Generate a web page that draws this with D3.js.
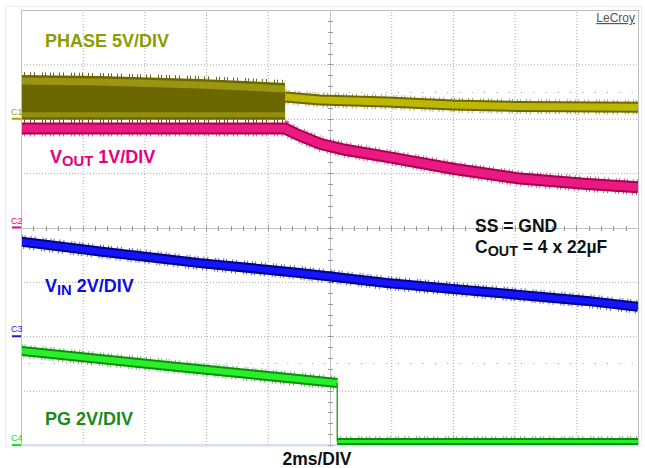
<!DOCTYPE html>
<html>
<head>
<meta charset="utf-8">
<script src="https://cdn.jsdelivr.net/npm/d3@7"></script>
<style>
	body { margin: 0; background: #fff; }
	svg { display: block; font-family: 'Liberation Sans', Arial, sans-serif; }
</style>
</head>
<body>
<svg id="scope" width="645" height="468"></svg>
<script>

// time in ms, values in volts
var phaseSwitchTime = [ 0, 2.56, 5.8, 8.56 ];
var phaseSwitchHigh = [ 4.02, 3.93, 3.66, 3.29 ];
var phaseTime = [ 8.56, 9.69, 11.86, 14.0, 16.17, 20 ];
var phaseVolts = [ 2.0, 1.72, 1.54, 1.26, 1.12, 1.05 ];

var voutTime = [ 0, 8.56, 9.0, 9.69, 10.5, 11.86, 14.0, 16.17, 18.35, 20 ];
var voutVolts = [ 1.82, 1.82, 1.70, 1.54, 1.43, 1.30, 1.08, 0.90, 0.80, 0.74 ];

var vinTime = [ 0, 2.56, 5.8, 9.04, 11.86, 14.0, 16.17, 18.35, 20 ];
var vinVolts = [ 3.48, 3.12, 2.69, 2.33, 1.96, 1.74, 1.52, 1.30, 1.08 ];

var pgHighTime = [ 0, 5, 10.25 ];
var pgHighVolts = [ 3.46, 2.88, 2.28 ];
var pgLowTime = [ 10.25, 20 ];
var pgLowVolts = [ 0.13, 0.13 ];

// scope channel setup: name, ground position (divisions from top), volts per division
var channelNames = [ 'C1', 'C2', 'C3', 'C4' ];
var channelGround = [ 2, 4, 6, 8 ];
var channelVoltsPerDiv = [ 5, 1, 2, 2 ];

var timeDivs = d3.range( 0, 21, 2 );
var voltDivs = d3.range( 0, 9, 1 );
var halfDivRows = [ 1.5, 6.5 ];

var colors = {
	phase: { dark: '#6c6800', mid: '#a39f14', band: '#bdb700', label: '#8a9e00' },
	vout: { dark: '#a8004f', band: '#ea1a82', label: '#e6007e' },
	vin: { dark: '#000088', band: '#1414ff', label: '#0c0ce6' },
	pg: { dark: '#0b8f0b', band: '#2aee2a', label: '#1b8a1b' }
};
var channelColors = [ '#a8a000', '#e6007e', '#1a1ae6', '#22dd22' ];

// irregular dash so the band edges look like scope noise rather than a comb
var fuzzDash = '1,2,1,5,1,3,1,7,1,2,1,4';

var padding = { top: 10, right: 7, bottom: 23, left: 21 };
var width = 645 - padding.left - padding.right;
var height = 468 - padding.top - padding.bottom;

var svg = d3.select( '#scope' );

var x = d3.scaleLinear().domain( [ 0, 20 ] ).range( [ padding.left, padding.left + width ] );
var yDiv = d3.scaleLinear().domain( [ 0, 8 ] ).range( [ padding.top, padding.top + height ] );

var yChannel = function ( ch ) {
	return function ( v ) {
		return yDiv( channelGround[ch] - v / channelVoltsPerDiv[ch] );
	};
};

var zip = function ( ts, vs ) {
	return ts.map( function ( t, i ) { return { t: t, v: vs[i] }; } );
};

// faint outer frame
svg.append( 'rect' )
	.attr( 'x', 5.5 ).attr( 'y', 6.5 )
	.attr( 'width', 636 ).attr( 'height', 440 )
	.style( 'fill', 'none' )
	.style( 'stroke', '#e6eef6' );

// grid
var xGrid = d3.axisBottom( x )
	.tickValues( timeDivs.filter( function ( d ) { return d > 0 && d < 20 && d !== 10; } ) )
	.tickSize( -height )
	.tickFormat( '' );

var yGrid = d3.axisLeft( yDiv )
	.tickValues( voltDivs.filter( function ( d ) { return d > 0 && d < 8 && d !== 4; } ) )
	.tickSize( -width )
	.tickFormat( '' );

svg.append( 'g' )
	.classed( 'grid', true )
	.attr( 'transform', 'translate(0,' + ( padding.top + height ) + ')' )
	.call( xGrid );

svg.append( 'g' )
	.classed( 'grid', true )
	.attr( 'transform', 'translate(' + padding.left + ',0)' )
	.call( yGrid );

svg.selectAll( '.grid .domain' ).remove();
svg.selectAll( '.grid line' )
	.style( 'stroke', '#a8a8a8' )
	.style( 'stroke-dasharray', '1,2' );

svg.selectAll( 'line.halfrow' )
	.data( halfDivRows )
	.enter()
	.append( 'line' )
	.classed( 'halfrow', true )
	.attr( 'x1', padding.left + 8 )
	.attr( 'x2', padding.left + width )
	.attr( 'y1', function ( d ) { return Math.round( yDiv( d ) ) + 0.5; } )
	.attr( 'y2', function ( d ) { return Math.round( yDiv( d ) ) + 0.5; } )
	.style( 'stroke', '#9a9a9a' )
	.style( 'stroke-dasharray', '1,11.3' );

// center axes with minor ticks
var cx = Math.round( x( 10 ) ) + 0.5;
var cy = Math.round( yDiv( 4 ) ) + 0.5;

svg.append( 'line' )
	.attr( 'x1', cx ).attr( 'x2', cx )
	.attr( 'y1', padding.top ).attr( 'y2', padding.top + height )
	.style( 'stroke', '#c4c4c4' );
svg.append( 'line' )
	.attr( 'x1', padding.left ).attr( 'x2', padding.left + width )
	.attr( 'y1', cy ).attr( 'y2', cy )
	.style( 'stroke', '#c4c4c4' );

svg.selectAll( 'line.vtick' )
	.data( d3.range( 0, 8.01, 0.2 ) )
	.enter()
	.append( 'line' )
	.classed( 'vtick', true )
	.attr( 'x1', cx - 2.5 ).attr( 'x2', cx + 2.5 )
	.attr( 'y1', function ( d ) { return Math.round( yDiv( d ) ) + 0.5; } )
	.attr( 'y2', function ( d ) { return Math.round( yDiv( d ) ) + 0.5; } )
	.style( 'stroke', '#9a9a9a' );

svg.selectAll( 'line.htick' )
	.data( d3.range( 0, 20.01, 0.4 ) )
	.enter()
	.append( 'line' )
	.classed( 'htick', true )
	.attr( 'y1', cy - 2.5 ).attr( 'y2', cy + 2.5 )
	.attr( 'x1', function ( d ) { return Math.round( x( d ) ) + 0.5; } )
	.attr( 'x2', function ( d ) { return Math.round( x( d ) ) + 0.5; } )
	.style( 'stroke', '#9a9a9a' );

// plot border
svg.append( 'rect' )
	.attr( 'x', padding.left + 0.5 ).attr( 'y', padding.top + 0.5 )
	.attr( 'width', width ).attr( 'height', height - 0.5 )
	.style( 'fill', 'none' )
	.style( 'stroke', '#c0c0c0' );

svg.append( 'clipPath' )
	.attr( 'id', 'plot-clip' )
	.append( 'rect' )
	.attr( 'x', padding.left + 1 ).attr( 'y', padding.top + 1 )
	.attr( 'width', width - 1 ).attr( 'height', height - 1 );

var traces = svg.append( 'g' ).attr( 'clip-path', 'url(#plot-clip)' );

// a noisy scope band: fuzzy dark edges under a bright core
var band = function ( data, ch, col, w ) {
	var line = d3.line()
		.x( function ( d ) { return x( d.t ); } )
		.y( function ( d ) { return yChannel( ch )( d.v ); } );
	traces.append( 'path' )
		.datum( data )
		.attr( 'd', line )
		.style( 'fill', 'none' )
		.style( 'stroke', col.dark )
		.style( 'stroke-width', w + 4 )
		.style( 'stroke-dasharray', fuzzDash )
		.style( 'opacity', 0.6 );
	traces.append( 'path' )
		.datum( data )
		.attr( 'd', line )
		.style( 'fill', 'none' )
		.style( 'stroke', col.dark )
		.style( 'stroke-width', w );
	traces.append( 'path' )
		.datum( data )
		.attr( 'd', line )
		.style( 'fill', 'none' )
		.style( 'stroke', col.band )
		.style( 'stroke-width', w - 4 );
};

// PHASE: switching envelope, then a single band once switching stops
var phaseSwitch = zip( phaseSwitchTime, phaseSwitchHigh );
var yPhase = yChannel( 0 );

var phaseArea = d3.area()
	.x( function ( d ) { return x( d.t ); } )
	.y0( yPhase( 0 ) + 1 )
	.y1( function ( d ) { return yPhase( d.v ); } );

var phaseTop = d3.line()
	.x( function ( d ) { return x( d.t ); } )
	.y( function ( d ) { return yPhase( d.v ); } );

var phaseLow = d3.line()
	.x( function ( d ) { return x( d.t ); } )
	.y( yPhase( 0 ) );

traces.append( 'path' )
	.datum( phaseSwitch )
	.attr( 'd', phaseTop )
	.style( 'fill', 'none' )
	.style( 'stroke', colors.phase.dark )
	.style( 'stroke-width', 6 )
	.style( 'stroke-dasharray', fuzzDash );

traces.append( 'path' )
	.datum( phaseSwitch )
	.attr( 'd', phaseLow )
	.style( 'fill', 'none' )
	.style( 'stroke', colors.phase.dark )
	.style( 'stroke-width', 7 )
	.style( 'stroke-dasharray', fuzzDash );

traces.append( 'path' )
	.datum( phaseSwitch )
	.attr( 'd', phaseArea )
	.style( 'fill', colors.phase.dark );

traces.append( 'path' )
	.datum( phaseSwitch )
	.attr( 'd', phaseTop )
	.attr( 'transform', 'translate(0,6)' )
	.style( 'fill', 'none' )
	.style( 'stroke', colors.phase.mid )
	.style( 'stroke-width', 7 )
	.style( 'opacity', 0.85 );

traces.append( 'path' )
	.datum( phaseSwitch )
	.attr( 'd', phaseLow )
	.attr( 'transform', 'translate(0,-4)' )
	.style( 'fill', 'none' )
	.style( 'stroke', colors.phase.mid )
	.style( 'stroke-width', 5 )
	.style( 'opacity', 0.7 );

band( zip( phaseTime, phaseVolts ), 0, { dark: colors.phase.dark, band: colors.phase.band }, 11 );

// VOUT, VIN, PG
band( zip( voutTime, voutVolts ), 1, colors.vout, 12 );
band( zip( vinTime, vinVolts ), 2, colors.vin, 10 );
band( zip( pgHighTime, pgHighVolts ), 3, colors.pg, 10 );
band( zip( pgLowTime, pgLowVolts ), 3, colors.pg, 7 );

var yPg = yChannel( 3 );
traces.append( 'line' )
	.attr( 'x1', x( pgHighTime[pgHighTime.length - 1] ) )
	.attr( 'x2', x( pgLowTime[0] ) )
	.attr( 'y1', yPg( pgHighVolts[pgHighVolts.length - 1] ) )
	.attr( 'y2', yPg( pgLowVolts[0] ) )
	.style( 'stroke', colors.pg.dark )
	.style( 'stroke-width', 1.2 );

// channel ground markers
var markers = svg.selectAll( 'g.marker' )
	.data( channelNames )
	.enter()
	.append( 'g' )
	.classed( 'marker', true )
	.attr( 'transform', function ( d, i ) {
		return 'translate(0,' + yDiv( channelGround[i] ) + ')';
	} );

markers.append( 'text' )
	.attr( 'x', 11 )
	.attr( 'y', -4 )
	.style( 'font-size', '9px' )
	.style( 'fill', function ( d, i ) { return channelColors[i]; } )
	.text( function ( d ) { return d; } );

markers.append( 'line' )
	.attr( 'x1', 12 ).attr( 'x2', 21 )
	.attr( 'y1', 0 ).attr( 'y2', 0 )
	.style( 'stroke', function ( d, i ) { return channelColors[i]; } )
	.style( 'stroke-width', 2 );

// labels, with optional subscript parts
var label = function ( xPos, yPos, size, color, parts ) {
	var t = svg.append( 'text' )
		.attr( 'x', xPos )
		.attr( 'y', yPos )
		.style( 'font-weight', 'bold' )
		.style( 'font-size', size + 'px' )
		.style( 'fill', color );
	var shift = 0;
	parts.forEach( function ( p ) {
		var s = t.append( 'tspan' ).text( p.text );
		if ( p.sub ) {
			s.style( 'font-size', ( size * 0.82 ) + 'px' ).attr( 'dy', 3 - shift );
			shift = 3;
		} else {
			s.attr( 'dy', -shift );
			shift = 0;
		}
	} );
	return t;
};

label( 45, 47, 18, colors.phase.label, [ { text: 'PHASE 5V/DIV' } ] );
label( 50, 163, 18, colors.vout.label, [ { text: 'V' }, { text: 'OUT', sub: true }, { text: ' 1V/DIV' } ] );
label( 45, 292, 18, colors.vin.label, [ { text: 'V' }, { text: 'IN', sub: true }, { text: ' 2V/DIV' } ] );
label( 45, 425, 18, colors.pg.label, [ { text: 'PG 2V/DIV' } ] );
label( 475, 232, 17.5, '#111', [ { text: 'SS = GND' } ] );
label( 475, 253, 17.5, '#111', [ { text: 'C' }, { text: 'OUT', sub: true }, { text: ' = 4 x 22\u00b5F' } ] );

svg.append( 'text' )
	.attr( 'x', 317 )
	.attr( 'y', 465 )
	.attr( 'text-anchor', 'middle' )
	.style( 'font-weight', 'bold' )
	.style( 'font-size', '17.5px' )
	.style( 'fill', '#111' )
	.text( '2ms/DIV' );

svg.append( 'text' )
	.attr( 'x', 635 )
	.attr( 'y', 22 )
	.attr( 'text-anchor', 'end' )
	.style( 'font-size', '12px' )
	.style( 'text-decoration', 'underline' )
	.style( 'fill', '#555' )
	.text( 'LeCroy' );

</script>
</body>
</html>
